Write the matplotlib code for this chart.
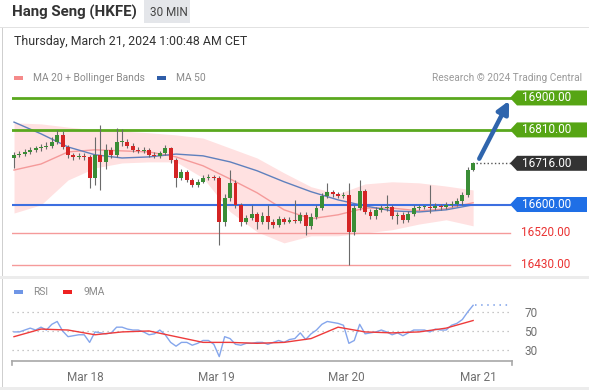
import matplotlib
matplotlib.use("Agg")
import matplotlib.pyplot as plt
from matplotlib.patches import Polygon, Rectangle
from matplotlib.transforms import blended_transform_factory

plt.rcParams['font.family'] = ['Roboto', 'DejaVu Sans']

# --- data (30 min candles, Mar 18 - Mar 21 2024) ---
first_open = 16730
closes = [16740, 16742, 16748, 16754, 16759, 16762, 16765, 16776, 16796, 16762,
          16740, 16734, 16737, 16734, 16675, 16740, 16720, 16754, 16740, 16776,
          16776, 16765, 16754, 16751, 16754, 16740, 16737, 16745, 16759, 16726,
          16675, 16692, 16669, 16655, 16664, 16675, 16678, 16675, 16551, 16619,
          16661, 16599, 16551, 16562, 16574, 16551, 16568, 16551, 16543, 16560,
          16551, 16557, 16554, 16571, 16540, 16565, 16590, 16624, 16635, 16630,
          16624, 16627, 16523, 16590, 16638, 16579, 16568, 16584, 16590, 16593,
          16568, 16571, 16557, 16574, 16590, 16593, 16593, 16590, 16596, 16593,
          16599, 16602, 16610, 16627, 16697, 16716]
highs = [16748, 16750, 16755, 16762, 16766, 16770, 16775, 16790, 16810, 16808,
         16768, 16746, 16744, 16745, 16740, 16790, 16824, 16770, 16762, 16816,
         16812, 16785, 16772, 16762, 16762, 16760, 16748, 16752, 16768, 16762,
         16730, 16700, 16698, 16676, 16672, 16682, 16685, 16684, 16680, 16630,
         16697, 16670, 16605, 16570, 16600, 16580, 16578, 16600, 16560, 16568,
         16565, 16565, 16613, 16580, 16580, 16575, 16598, 16632, 16661, 16640,
         16636, 16634, 16661, 16600, 16669, 16645, 16588, 16592, 16598, 16627,
         16600, 16580, 16578, 16582, 16598, 16600, 16600, 16655, 16603, 16602,
         16606, 16610, 16618, 16635, 16705, 16720]
lows = [16703, 16733, 16736, 16742, 16748, 16752, 16755, 16760, 16770, 16755,
        16732, 16726, 16728, 16726, 16647, 16655, 16640, 16700, 16730, 16735,
        16765, 16758, 16748, 16744, 16745, 16734, 16730, 16730, 16740, 16718,
        16650, 16668, 16662, 16648, 16650, 16660, 16670, 16668, 16486, 16540,
        16610, 16590, 16540, 16545, 16555, 16530, 16545, 16530, 16535, 16538,
        16545, 16548, 16548, 16548, 16514, 16530, 16558, 16585, 16618, 16622,
        16618, 16618, 16430, 16515, 16585, 16572, 16560, 16560, 16578, 16582,
        16560, 16545, 16548, 16550, 16568, 16585, 16586, 16575, 16584, 16585,
        16588, 16594, 16596, 16600, 16620, 16695]

ind_idx = list(range(0, 86, 5))
ma20 = [16697, 16714, 16748, 16754, 16751, 16748, 16734, 16709, 16672, 16633,
        16585, 16560, 16571, 16590, 16590, 16582, 16588, 16605]
ma50 = [16832, 16799, 16762, 16740, 16731, 16734, 16742, 16737, 16720, 16695,
        16664, 16636, 16613, 16596, 16582, 16579, 16585, 16599]
bb_up = [16830, 16827, 16818, 16810, 16807, 16802, 16796, 16787, 16759, 16731,
         16689, 16650, 16630, 16658, 16664, 16661, 16652, 16641]
bb_low = [16576, 16599, 16669, 16703, 16717, 16720, 16720, 16675, 16580, 16523,
          16492, 16512, 16512, 16520, 16529, 16545, 16557, 16540]

rsi = [49, 49, 51, 53, 51, 54, 51, 57, 60, 50, 44, 45, 46, 46, 38, 49, 48, 47, 48, 54,
       54, 52, 51, 51, 49, 46, 47, 51, 46, 38, 34, 38, 38, 35, 37, 40, 40, 36, 23, 44,
       42, 36, 35, 37, 37, 38, 38, 36, 38, 40, 38, 41, 42, 48, 41, 47, 51, 57, 60, 59,
       58, 56, 37, 40, 57, 47, 48, 49, 51, 49, 46, 48, 45, 48, 51, 51, 51, 49, 52, 51,
       51, 56, 58, 62, 70, 77]
rsi_ma = [44, 52, 51, 46, 49, 50, 44, 38, 38, 37, 38, 42, 54, 49, 48, 49, 53, 61]

resistances = [16900, 16810]
pivot = 16600
supports = [16520, 16430]
last_price = 16716
target = 16900

day_labels = ["Mar 18", "Mar 19", "Mar 20", "Mar 21"]
day_pos = [13.3, 37.4, 61.6, 86.0]

W, H = 589, 390
fig = plt.figure(figsize=(W / 100, H / 100), dpi=100)


def fx(x):
    return x / W


def fy(y):
    return 1 - y / H


# frame / header decorations
fig.add_artist(Rectangle((fx(144), fy(23)), 46 / W, 23 / H, transform=fig.transFigure,
                         color='#e4e6ea', lw=0))
fig.add_artist(Rectangle((0, fy(28)), 1, 1 / H, transform=fig.transFigure, color='#e2e2e2', lw=0))
fig.add_artist(Rectangle((fx(2), 0), 1.2 / W, fy(28), transform=fig.transFigure, color='#cfcfcf', lw=0))
fig.add_artist(Rectangle((0, fy(279)), 1, 3 / H, transform=fig.transFigure, color='#ececec', lw=0))
fig.add_artist(Rectangle((0, 0), 1, 3 / H, transform=fig.transFigure, color='#ececec', lw=0))

fig.text(fx(12), fy(12), "Hang Seng (HKFE)", fontsize=10.8, fontweight='bold', color='#333333', va='center')
fig.text(fx(150), fy(12), "30 MIN", fontsize=8.5, color='#444444', va='center')
fig.text(fx(14), fy(42), "Thursday, March 21, 2024 1:00:48 AM CET", fontsize=8.9, color='#333333', va='center')

fig.add_artist(Rectangle((fx(14), fy(80)), 9 / W, 4 / H, transform=fig.transFigure, color='#f58a8a', lw=0))
fig.text(fx(33), fy(78), "MA 20 + Bollinger Bands", fontsize=7.4, color='#8a8a8a', va='center')
fig.add_artist(Rectangle((fx(157), fy(80)), 9 / W, 4 / H, transform=fig.transFigure, color='#2f5da8', lw=0))
fig.text(fx(176), fy(78), "MA 50", fontsize=7.4, color='#8a8a8a', va='center')
fig.text(fx(582), fy(78), "Research \u00a9 2024 Trading Central", fontsize=7.3, color='#9a9a9a',
         va='center', ha='right')

# --- main price panel ---
ax = fig.add_axes([fx(12), fy(272), 500 / W, 184 / H])
x_lo, x_hi = -0.37, 92.2
ax.set_xlim(x_lo, x_hi)
ax.set_ylim(16410, 16928)
ax.axis('off')

ax.fill_between(ind_idx, bb_low, bb_up, color='#ffdcdc', alpha=0.85, lw=0)
ax.plot(ind_idx, ma20, color='#f59a9a', lw=1)
ax.plot(ind_idx, ma50, color='#5f80bd', lw=1)

opens = [first_open] + closes[:-1]
for i, (o, h, l, c) in enumerate(zip(opens, highs, lows, closes)):
    col = '#3a8d36' if c >= o else '#d42424'
    ax.vlines(i, l, h, color='#6a6a6a', lw=0.8, zorder=3)
    ax.bar(i, max(abs(c - o), 2), bottom=min(o, c), width=0.72, color=col, zorder=4)

for lv in resistances:
    ax.axhline(lv, color='#5aa81e', lw=2, zorder=2)
ax.plot([x_lo, 91.8], [pivot, pivot], color='#3d6fe0', lw=1.5, zorder=2)
for lv in supports:
    ax.plot([x_lo, 91.8], [lv, lv], color='#f59a9a', lw=1, zorder=2)

ax.plot([85.6, 92], [last_price, last_price], ls=':', color='#555555', lw=1, clip_on=False)
ax.annotate('', xy=(91.9, target - 1), xytext=(85.9, last_price + 6),
            arrowprops=dict(arrowstyle='-|>', color='#2f65ad', lw=3.2, mutation_scale=18),
            annotation_clip=False)

# price labels on the right
blend = blended_transform_factory(fig.transFigure, ax.transData)
ppx = (16928 - 16410) / 184.0


def tag(level, color, txt_color='white'):
    hh = 7.5 * ppx
    pts = [(fx(510), level), (fx(517), level + hh), (fx(587), level + hh),
           (fx(587), level - hh), (fx(517), level - hh)]
    fig.add_artist(Polygon(pts, closed=True, transform=blend, color=color, lw=0))
    fig.text(fx(522), level, f"{level:.2f}", transform=blend, fontsize=8.5, color=txt_color, va='center')


for lv in resistances:
    tag(lv, '#56a514')
tag(last_price, '#333333')
tag(pivot, '#1f6fe6')
for lv in supports:
    fig.text(fx(521), lv, f"{lv:.2f}", transform=blend, fontsize=8.5, color='#ea3333', va='center')

# --- RSI panel ---
fig.add_artist(Rectangle((fx(14), fy(294)), 9 / W, 4 / H, transform=fig.transFigure, color='#6f96e6', lw=0))
fig.text(fx(33), fy(292), "RSI", fontsize=7.4, color='#8a8a8a', va='center')
fig.add_artist(Rectangle((fx(63), fy(294)), 9 / W, 4 / H, transform=fig.transFigure, color='#ee2222', lw=0))
fig.text(fx(83), fy(292), "9MA", fontsize=7.4, color='#8a8a8a', va='center')

ax2 = fig.add_axes([fx(12), fy(361), 500 / W, 63 / H])
ax2.set_xlim(x_lo, x_hi)
ax2.set_ylim(18.4, 84.7)
for s in ['top', 'left', 'right']:
    ax2.spines[s].set_visible(False)
ax2.spines['bottom'].set_color('#a8a8a8')
ax2.spines['bottom'].set_linewidth(1.2)
for xa in (0, 1):
    ax2.plot([xa, xa], [0, -0.07], transform=ax2.transAxes, color='#a8a8a8', lw=1.2, clip_on=False)

for lv in (70, 50, 30):
    ax2.plot([x_lo, 91.8], [lv, lv], ls=(0, (1, 3)), color='#b5b5b5', lw=0.9)
ax2.plot([85.3, 91.8], [rsi[-1], rsi[-1]], ls=(0, (1, 3)), color='#7b9fe8', lw=1.1)

ax2.plot(range(len(rsi)), rsi, color='#85a6ec', lw=1)
ax2.plot(ind_idx, rsi_ma, color='#ee3b3b', lw=1)

ax2.set_xticks(day_pos, day_labels)
ax2.tick_params(axis='x', length=0, pad=7, labelcolor='#707070', labelsize=8.5)
ax2.yaxis.tick_right()
ax2.set_yticks([30, 50, 70])
ax2.tick_params(axis='y', length=0, pad=9, labelcolor='#707070', labelsize=8.5)

fig.savefig("out.png", dpi=100)
